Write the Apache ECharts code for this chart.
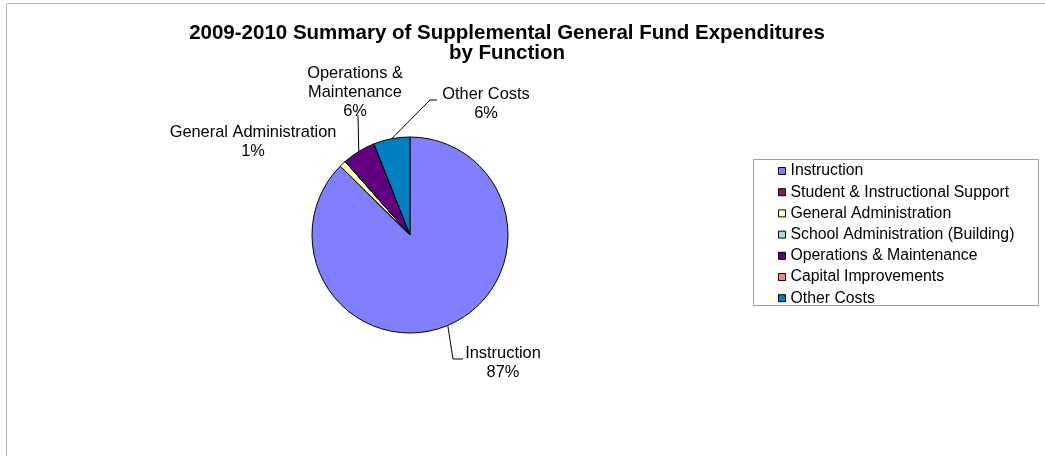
<!DOCTYPE html>
<html>
<head>
<meta charset="utf-8">
<script src="https://cdn.jsdelivr.net/npm/echarts@6/dist/echarts.min.js"></script>
<style>
  html, body { margin: 0; padding: 0; background: #fff; }
  #chart { width: 1045px; height: 456px; }
</style>
</head>
<body>
<div id="chart"></div>
<script>
// Spending by function, 2009-2010 supplemental general fund
const categories = [
  'Instruction',
  'Student & Instructional Support',
  'General Administration',
  'School Administration (Building)',
  'Operations & Maintenance',
  'Capital Improvements',
  'Other Costs'
];
const shares = [87.4, 0, 1.1, 0, 5.5, 0, 6.0];
const sliceLabels = [
  'Instruction',
  'Student & Instructional Support',
  'General Administration',
  'School Administration (Building)',
  'Operations &\nMaintenance',
  'Capital Improvements',
  'Other Costs'
];
const colors = ['#8080FF', '#802060', '#FFFFC0', '#A0E0E0', '#600080', '#FF8080', '#0080C0'];

// Where each slice label sits and how its leader line bends
const labelPlacement = {
  'Instruction': { x: 503, y: 363, line: [[453, 359], [463, 359]] },
  'General Administration': { x: 253, y: 142, line: null },
  'Operations & Maintenance': { x: 355, y: 92, line: [[358, 115], [358, 115]] },
  'Other Costs': { x: 486, y: 104, line: [[430, 100], [437, 100]] }
};

const FONT = '"Liberation Sans", Arial, Helvetica, sans-serif';

const chart = echarts.init(document.getElementById('chart'), null, { renderer: 'canvas' });

const data = categories.map((name, i) => ({
  name: name,
  value: shares[i],
  itemStyle: { color: colors[i] },
  label: { show: shares[i] > 0 },
  labelLine: { show: shares[i] > 0 && !!(labelPlacement[name] && labelPlacement[name].line) }
}));

chart.setOption({
  animation: false,
  graphic: [
    {
      type: 'rect', silent: true, z: -10,
      shape: { x: 6.5, y: 3.5, width: 1200, height: 600 },
      style: { fill: '#fff', stroke: '#B4B4B4', lineWidth: 1 }
    },
    {
      type: 'rect', silent: true, z: -5,
      shape: { x: 753.5, y: 159.5, width: 285, height: 146 },
      style: { fill: '#fff', stroke: '#A0A0A0', lineWidth: 1 }
    },
    {
      type: 'text', silent: true,
      style: {
        x: 507, y: 23,
        text: '2009-2010 Summary of Supplemental General Fund Expenditures\nby Function',
        textAlign: 'center', textVerticalAlign: 'top',
        font: 'bold 20.5px ' + FONT, lineHeight: 20, fill: '#000'
      }
    }
  ],
  legend: {
    orient: 'vertical',
    left: 778,
    top: 163,
    padding: 0,
    itemWidth: 7,
    itemHeight: 7,
    itemGap: 5.2,
    icon: 'rect',
    data: categories,
    itemStyle: { borderColor: '#000', borderWidth: 1 },
    textStyle: { fontFamily: FONT, fontSize: 15.8, lineHeight: 16, color: '#000', padding: [0, 0, 0, 0] }
  },
  series: [{
    type: 'pie',
    center: [410, 235],
    radius: 98,
    startAngle: 90,
    clockwise: true,
    avoidLabelOverlap: false,
    stillShowZeroSum: false,
    itemStyle: { borderColor: '#000', borderWidth: 1 },
    emphasis: { disabled: true },
    label: {
      position: 'outside',
      fontFamily: FONT,
      fontSize: 16.4,
      lineHeight: 19,
      color: '#000',
      align: 'center',
      formatter: p => sliceLabels[p.dataIndex] + '\n' + Math.round(p.percent) + '%'
    },
    labelLine: { lineStyle: { color: '#000', width: 1 } },
    labelLayout: params => {
      const place = labelPlacement[categories[params.dataIndex]];
      if (!place) return {};
      const out = { x: place.x, y: place.y, align: 'center', verticalAlign: 'middle' };
      if (place.line && params.labelLinePoints) {
        out.labelLinePoints = [params.labelLinePoints[0], place.line[0], place.line[1]];
      }
      return out;
    },
    data: data
  }]
});
</script>
</body>
</html>
